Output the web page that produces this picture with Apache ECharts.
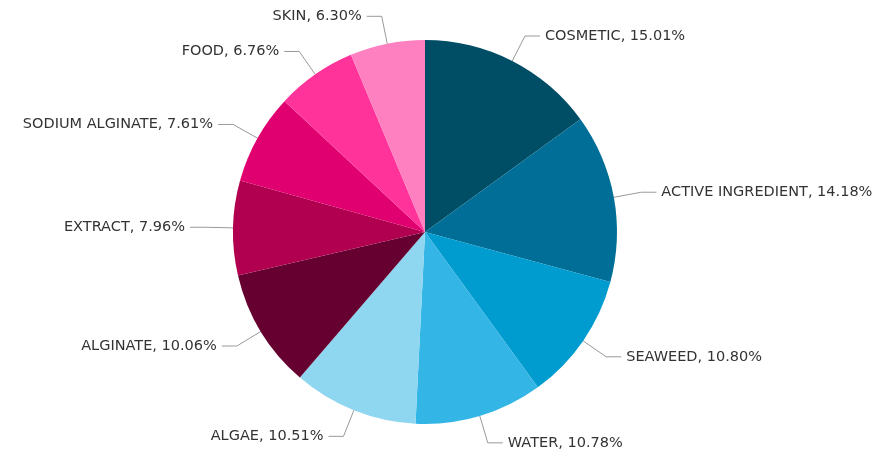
<!DOCTYPE html>
<html>
<head>
<meta charset="utf-8">
<script src="https://cdn.jsdelivr.net/npm/echarts@6/dist/echarts.min.js"></script>
<style>
  html, body { margin: 0; padding: 0; background: #fff; }
  #chart { width: 886px; height: 457px; }
</style>
</head>
<body>
<div id="chart"></div>
<script>
// Share of each term (percent)
const categories = ['COSMETIC', 'ACTIVE INGREDIENT', 'SEAWEED', 'WATER', 'ALGAE',
                    'ALGINATE', 'EXTRACT', 'SODIUM ALGINATE', 'FOOD', 'SKIN'];
const shares = [15.01, 14.18, 10.80, 10.78, 10.51, 10.06, 7.96, 7.61, 6.76, 6.30];
const sliceColors = ['#004d66', '#006e96', '#009bcf', '#33b5e5', '#8fd6f0',
                     '#650030', '#b0004f', '#e0006f', '#ff3399', '#ff80c0'];

const chart = echarts.init(document.getElementById('chart'));
chart.setOption({
  animation: false,
  series: [{
    type: 'pie',
    center: [425, 232],
    radius: 192,
    startAngle: 90,
    clockwise: true,
    data: categories.map((name, i) => ({
      name: name,
      value: shares[i],
      itemStyle: { color: sliceColors[i], borderWidth: 0 }
    })),
    label: {
      formatter: p => p.name + ', ' + p.value.toFixed(2) + '%',
      fontFamily: 'DejaVu Sans, Verdana, sans-serif',
      fontSize: 14.5,
      color: '#333',
      overflow: 'none'
    },
    labelLine: {
      length: 28,
      length2: 15,
      lineStyle: { color: '#999', width: 1 }
    },
    emphasis: { disabled: true }
  }]
});
</script>
</body>
</html>
